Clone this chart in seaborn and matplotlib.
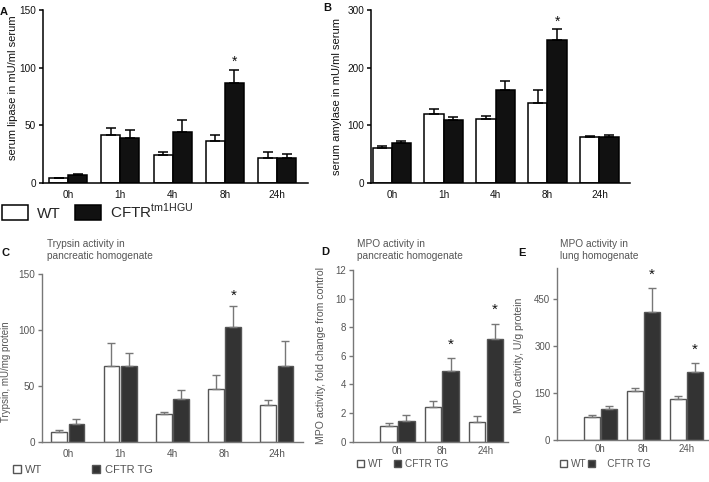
import matplotlib
matplotlib.use("Agg")
import matplotlib.pyplot as plt
import seaborn as sns
import pandas as pd

# ---------------- data ----------------
times5 = ["0h", "1h", "4h", "8h", "24h"]
times3 = ["0h", "8h", "24h"]

lip_wt = [4, 42, 24.5, 36, 22]
lip_wt_err = [0.7, 6, 2, 6, 4.5]
lip_ko = [6.6, 39, 44, 87, 22]
lip_ko_err = [1, 7, 11, 11, 3]
lip_sig = [0, 0, 0, 1, 0]

amy_wt = [60, 120, 111, 139, 79]
amy_wt_err = [4.5, 7.5, 6, 23, 2]
amy_ko = [70, 110, 161, 247.5, 79]
amy_ko_err = [3.5, 4, 16, 19.5, 4]
amy_sig = [0, 0, 0, 1, 0]

try_wt = [8.3, 68, 24.4, 47, 32.7]
try_wt_err = [2.1, 20, 2.1, 13, 4.2]
try_tg = [15.5, 68, 38.4, 102.7, 68]
try_tg_err = [5, 11.6, 7.4, 18.7, 21.7]
try_sig = [0, 0, 0, 1, 0]

mpop_wt = [1.12, 2.45, 1.4]
mpop_wt_err = [0.21, 0.42, 0.42]
mpop_tg = [1.45, 4.94, 7.2]
mpop_tg_err = [0.41, 0.89, 1.03]
mpop_sig = [0, 1, 1]

mpol_wt = [74, 158, 131]
mpol_wt_err = [5, 9, 11]
mpol_tg = [100.6, 410, 219]
mpol_tg_err = [9.4, 77, 28]
mpol_sig = [0, 1, 1]

groups = ["WT", "CFTR"]

# ---------------- style ----------------
sns.set_theme(style="ticks")
plt.rcParams["font.family"] = ["Liberation Sans", "DejaVu Sans"]
plt.rcParams["mathtext.fontset"] = "custom"
plt.rcParams["mathtext.rm"] = "Liberation Sans"

W, H = 709, 482
fig = plt.figure(figsize=(W / 100, H / 100), dpi=100)


def box(l, r, top, bot):
    return [l / W, 1 - bot / H, (r - l) / W, (bot - top) / H]


def panel(ax, times, wt, wt_err, tg, tg_err, sig, ylim, yticks, ylabel,
          xlim, width, gap, dark, edge, txt, spine, err_c, fs_tick, fs_lab,
          capsize, star_off, star_fs, lw, xpad=5):
    df = pd.DataFrame({
        "time": list(times) * 2,
        "value": list(wt) + list(tg),
        "group": [groups[0]] * len(times) + [groups[1]] * len(times),
    })
    sns.barplot(data=df, x="time", y="value", hue="group", order=times,
                hue_order=groups, palette={groups[0]: "white", groups[1]: dark},
                width=width, gap=gap, edgecolor=edge, linewidth=lw,
                errorbar=None, legend=False, ax=ax, saturation=1)
    for cont, errs in zip(ax.containers, [wt_err, tg_err]):
        for bar, e in zip(cont, errs):
            x = bar.get_x() + bar.get_width() / 2
            h = bar.get_height()
            ax.errorbar([x], [h], yerr=[[0], [e]], fmt="none", ecolor=err_c,
                        elinewidth=lw, capsize=capsize, capthick=lw, zorder=1)
    for i, s in enumerate(sig):
        if s:
            bar = ax.containers[1][i]
            x = bar.get_x() + bar.get_width() / 2
            y = bar.get_height() + tg_err[i]
            ax.annotate("*", (x, y), xytext=(0, star_off),
                        textcoords="offset points", ha="center", va="bottom",
                        fontsize=star_fs, color="#111111")
    ax.set_ylim(*ylim)
    ax.set_yticks(yticks)
    ax.set_xlim(*xlim)
    ax.set_xlabel("")
    ax.set_ylabel(ylabel, fontsize=fs_lab, color=txt)
    sns.despine(ax=ax)
    for sp in ["left", "bottom"]:
        ax.spines[sp].set_color(spine)
        ax.spines[sp].set_linewidth(lw)
    ax.tick_params(axis="y", length=3, width=lw, color=spine, labelsize=fs_tick,
                   labelcolor=txt, pad=2)
    ax.tick_params(axis="x", length=0, labelsize=fs_tick, labelcolor=txt, pad=xpad)
    ax.set_facecolor("none")


# Panel A
axA = fig.add_axes(box(43, 308, 10, 183))
panel(axA, times5, lip_wt, lip_wt_err, lip_ko, lip_ko_err, lip_sig,
      (0, 150), [0, 50, 100, 150], "serum lipase in mU/ml serum",
      (-0.48, 4.59), 0.73, 0, "#111111", "black", "#111111", "black", "black",
      7.2, 8, 3.3, 1, 10, 1.1)
axA.yaxis.set_label_coords(-0.094, 0.55)

# Panel B
axB = fig.add_axes(box(371, 630, 10, 183))
panel(axB, times5, amy_wt, amy_wt_err, amy_ko, amy_ko_err, amy_sig,
      (0, 300), [0, 100, 200, 300], "serum amylase in mU/ml serum",
      (-0.40, 4.59), 0.74, 0, "#111111", "black", "#111111", "black", "black",
      7.2, 8, 3.3, 0, 10, 1.1)
axB.yaxis.set_label_coords(-0.112, 0.5)

GT = "#555555"
GS = "#777777"
# Panel C
axC = fig.add_axes(box(41.7, 303, 274, 441.7))
panel(axC, times5, try_wt, try_wt_err, try_tg, try_tg_err, try_sig,
      (0, 150), [0, 50, 100, 150], "Trypsin, mU/mg protein",
      (-0.5, 4.5), 0.66, 0.08, "#333333", "#555555", GT, GS, GS,
      7.2, 7.0, 2.8, 2, 11, 1.0)
axC.yaxis.set_label_coords(-0.118, 0.42)

# Panel D
axD = fig.add_axes(box(353.3, 508, 270, 441.7))
panel(axD, times3, mpop_wt, mpop_wt_err, mpop_tg, mpop_tg_err, mpop_sig,
      (0, 12), [0, 2, 4, 6, 8, 10, 12], "MPO activity, fold change from control",
      (-1.0, 2.5), 0.8, 0.07, "#333333", "#555555", GT, GS, GS,
      7.0, 7.6, 2.8, 5, 11, 1.0, xpad=3)
axD.yaxis.set_label_coords(-0.176, 0.5)

# Panel E
axE = fig.add_axes(box(557.3, 708, 268, 440))
panel(axE, times3, mpol_wt, mpol_wt_err, mpol_tg, mpol_tg_err, mpol_sig,
      (0, 550), [0, 150, 300, 450], "MPO activity, U/g protein",
      (-1.0, 2.5), 0.8, 0.07, "#333333", "#555555", GT, GS, GS,
      7.0, 7.6, 2.8, 4, 11, 1.0, xpad=3)
axE.yaxis.set_label_coords(-0.221, 0.49)

# Panel letters
for lab, x, y in [("A", 4, 12), ("B", 327, 8), ("C", 5, 253), ("D", 325, 252), ("E", 522, 253)]:
    fig.text(x / W, 1 - y / H, lab, fontsize=8, fontweight="bold", ha="center",
             va="center", color="#111111")

# Titles
for t, x in [("Trypsin activity in\npancreatic homogenate", 47),
             ("MPO activity in\npancreatic homogenate", 357),
             ("MPO activity in\nlung homogenate", 560)]:
    fig.text(x / W, 1 - 239 / H, t, fontsize=7.3, color=GT, ha="left", va="top",
             linespacing=1.25)

# Legend A/B
fig.legend(axA.containers[:2], ["WT", r"CFTR$^{\mathregular{tm1HGU}}$"], ncol=2,
           loc="center left", bbox_to_anchor=(2 / W, 1 - 211 / H), fontsize=11,
           handlelength=1.7, handleheight=1.1, handletextpad=0.6, columnspacing=0.9,
           frameon=False, borderpad=0, borderaxespad=0)

# Legends C/D/E
for ax, x, y, cs, fs, labs in [(axC, 13, 470, 4.5, 8, ["WT", "CFTR TG"]),
                               (axD, 357, 464, 1.0, 7.2, ["WT", "CFTR TG"]),
                               (axE, 560, 464, 0.1, 7.2, ["WT", "   CFTR TG"])]:
    leg = fig.legend(ax.containers[:2], labs, ncol=2, loc="center left",
                     bbox_to_anchor=(x / W, 1 - y / H), fontsize=fs,
                     handlelength=0.7, handleheight=0.7, handletextpad=0.4,
                     columnspacing=cs, frameon=False, borderpad=0, borderaxespad=0)
    for t in leg.get_texts():
        t.set_color(GT)

fig.savefig("out.png", dpi=100)
